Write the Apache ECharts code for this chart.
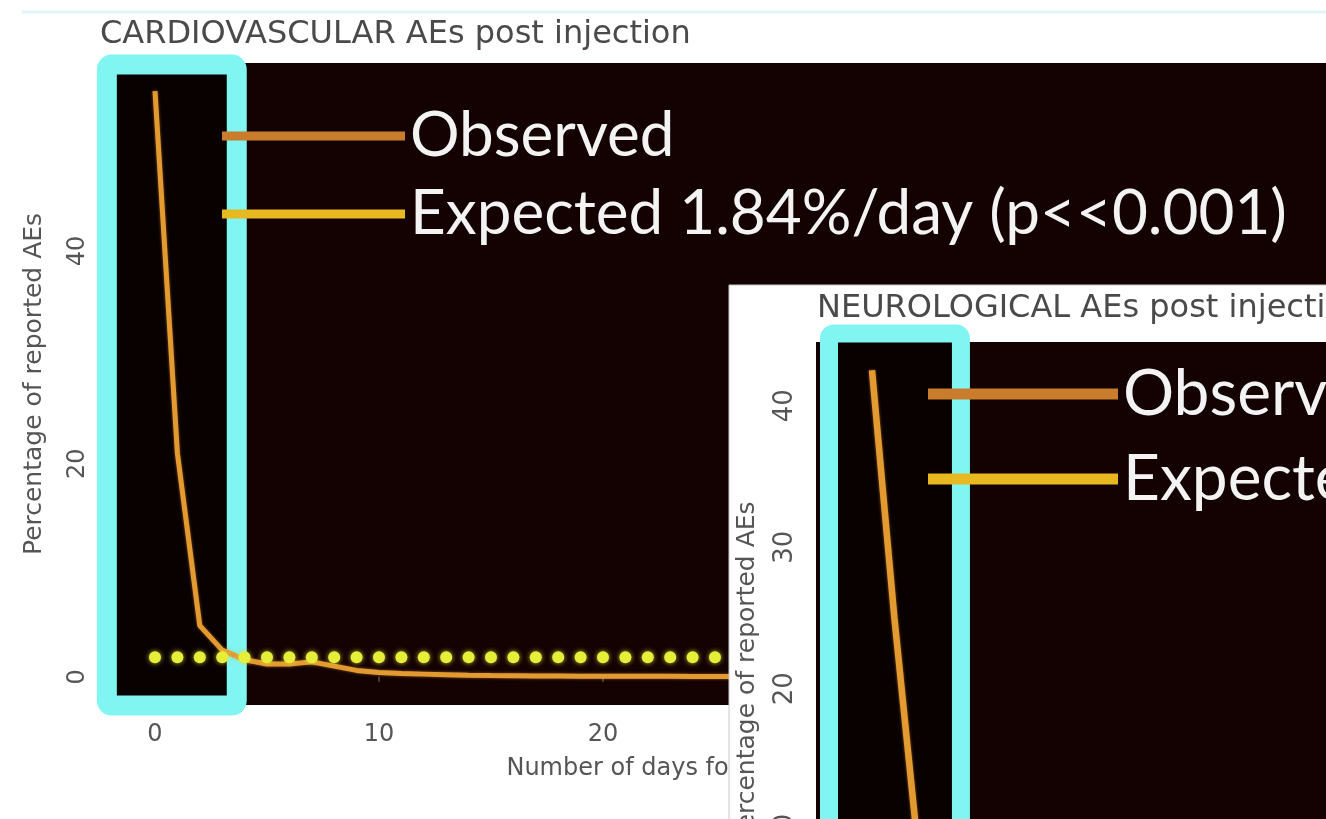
<!DOCTYPE html>
<html>
<head>
<meta charset="utf-8">
<script src="https://cdn.jsdelivr.net/npm/echarts@6/dist/echarts.min.js"></script>
<style>
html,body{margin:0;padding:0;background:#ffffff;}
#c{width:1326px;height:819px;}
</style>
</head>
<body>
<div id="c"></div>
<script>
// ---------- data ----------
const cardioTitle = 'CARDIOVASCULAR AEs post injection';
const neuroTitle = 'NEUROLOGICAL AEs post injection';
const xAxisName = 'Number of days following injection';
const yAxisName = 'Percentage of reported AEs';
const observedName = 'Observed';
const cardioExpectedName = 'Expected 1.84%/day (p<<0.001)';
const neuroExpectedName = 'Expected';

const cardioDays = [0,1,2,3,4,5,6,7,8,9,10,11,12,13,14,15,16,17,18,19,20,21,22,23,24,25,26,27,28,29,30];
const cardioObserved = [55,21,4.8,2.5,1.6,1.2,1.2,1.4,1.0,0.6,0.4,0.3,0.25,0.2,0.15,0.12,0.1,0.08,0.07,0.06,0.05,0.05,0.04,0.04,0.03,0.03,0.03,0.03,0.02,0.02,0.02];
const cardioExpected = [1.84,1.84,1.84,1.84,1.84,1.84,1.84,1.84,1.84,1.84,1.84,1.84,1.84,1.84,1.84,1.84,1.84,1.84,1.84,1.84,1.84,1.84,1.84,1.84,1.84,1.84,1.84,1.84,1.84,1.84,1.84];

const neuroDays = [0,1,2,3,4,5,6,7,8,9,10];
const neuroObserved = [42.5,25,9.5,4.5,2.8,2.0,1.6,1.3,1.0,0.8,0.6];
const neuroExpected = [1.84,1.84,1.84,1.84,1.84,1.84,1.84,1.84,1.84,1.84,1.84];

const xTicks = [0,10,20,30,40,50];
const cardioYTicks = [0,20,40];
const neuroYTicks = [0,10,20,30,40];

// ---------- helpers ----------
const pairs = (xs, ys) => xs.map((x, i) => [x, ys[i]]);

const axisFont = 'DejaVu Sans';
const grey = '#555555';
const plotBg = '#140202';
const cyan = '#80f5f2';
const lineOrange = '#e39a30';
const dotYellow = '#e6ee3a';

function xAxisOpt(gridIndex, z) {
  return {
    type: 'value', gridIndex: gridIndex, min: -2.5, max: 52.5, z: z,
    axisLine: {show: false},
    splitLine: {show: false},
    axisTick: {show: true, length: 5, lineStyle: {color: '#555', width: 1.5}, customValues: xTicks},
    axisLabel: {customValues: xTicks, color: grey, fontFamily: axisFont, fontSize: 24, margin: 18},
    name: xAxisName,
    nameLocation: 'middle', nameGap: 52,
    nameTextStyle: {color: grey, fontFamily: axisFont, fontSize: 24}
  };
}
function yAxisOpt(gridIndex, z, min, max, ticks, labelSize, labelMargin, nameGap) {
  return {
    type: 'value', gridIndex: gridIndex, min: min, max: max, z: z,
    axisLine: {show: false},
    splitLine: {show: false},
    axisTick: {show: true, length: 5, lineStyle: {color: '#555', width: 1.5}, customValues: ticks},
    axisLabel: {customValues: ticks, rotate: 90, color: grey, fontFamily: axisFont, fontSize: labelSize, margin: labelMargin},
    name: yAxisName, nameLocation: 'middle', nameGap: nameGap, nameRotate: 90,
    nameTextStyle: {color: grey, fontFamily: axisFont, fontSize: 25}
  };
}

const option = {
  animation: false,
  backgroundColor: '#ffffff',
  title: [
    {text: cardioTitle, left: 95, top: 14, z: 4,
     textStyle: {color: '#4a4a4a', fontFamily: axisFont, fontSize: 32, fontWeight: 'normal'}},
    {text: neuroTitle, left: 812, top: 288, z: 14,
     textStyle: {color: '#4a4a4a', fontFamily: axisFont, fontSize: 32, fontWeight: 'normal'}}
  ],
  legend: [
    {orient: 'vertical', left: 222, top: 101, padding: 0, itemWidth: 183, itemHeight: 9, itemGap: 8,
     icon: 'rect', selectedMode: false, z: 4,
     textStyle: {fontFamily: 'Lato', fontSize: 62, lineHeight: 70, color: '#f3f3f3'},
     data: [
       {name: observedName, itemStyle: {color: '#c97c2b', opacity: 1}},
       {name: cardioExpectedName, itemStyle: {color: '#e8b820', opacity: 1}}
     ]},
    {orient: 'vertical', left: 928, top: 359, padding: 0, itemWidth: 190, itemHeight: 11, itemGap: 15,
     icon: 'rect', selectedMode: false, z: 14,
     textStyle: {fontFamily: 'Lato', fontSize: 64, lineHeight: 70, color: '#f3f3f3'},
     data: [
       {name: observedName, itemStyle: {color: '#c97c2b', opacity: 1}},
       {name: neuroExpectedName, itemStyle: {color: '#e8b820', opacity: 1}}
     ]}
  ],
  grid: [
    {left: 99, top: 63, width: 1232, height: 642, show: true, backgroundColor: plotBg,
     borderWidth: 0, z: 0, outerBoundsMode: 'none', containLabel: false},
    {left: 816, top: 342, width: 1232, height: 661, show: true, backgroundColor: plotBg,
     borderWidth: 0, z: 11, outerBoundsMode: 'none', containLabel: false}
  ],
  xAxis: [xAxisOpt(0, 0), xAxisOpt(1, 11)],
  yAxis: [
    yAxisOpt(0, 0, -2.65, 57.65, cardioYTicks, 24, 9, 52),
    yAxisOpt(1, 11, -2.2, 44.5, neuroYTicks, 26, 18, 56)
  ],
  series: [
    {name: observedName, type: 'line', xAxisIndex: 0, yAxisIndex: 0, z: 3,
     data: pairs(cardioDays, cardioObserved), showSymbol: false,
     lineStyle: {color: lineOrange, width: 5, shadowBlur: 3, shadowColor: 'rgba(227,154,48,0.6)'},
     itemStyle: {color: lineOrange}},
    {name: cardioExpectedName, type: 'scatter', xAxisIndex: 0, yAxisIndex: 0, z: 4,
     data: pairs(cardioDays, cardioExpected), symbol: 'circle', symbolSize: 12,
     itemStyle: {color: dotYellow, opacity: 1, shadowBlur: 5, shadowColor: 'rgba(230,238,58,0.8)'}},
    {name: observedName, type: 'line', xAxisIndex: 1, yAxisIndex: 1, z: 13,
     data: pairs(neuroDays, neuroObserved), showSymbol: false,
     lineStyle: {color: lineOrange, width: 6.5, shadowBlur: 3, shadowColor: 'rgba(227,154,48,0.6)'},
     itemStyle: {color: lineOrange}},
    {name: neuroExpectedName, type: 'scatter', xAxisIndex: 1, yAxisIndex: 1, z: 13,
     data: pairs(neuroDays, neuroExpected), symbol: 'circle', symbolSize: 14,
     itemStyle: {color: dotYellow, opacity: 1}}
  ]
};

const chart = echarts.init(document.getElementById('c'));
chart.setOption(option);

// highlight boxes anchored to data coordinates
function boxFromData(gridIndex, x0, x1, yTop, yBottom) {
  const a = chart.convertToPixel({gridIndex: gridIndex}, [x0, yTop]);
  const b = chart.convertToPixel({gridIndex: gridIndex}, [x1, yBottom]);
  return {x: a[0], y: a[1], width: b[0] - a[0], height: b[1] - a[1]};
}
const box1 = boxFromData(0, -2.15, 3.65, 57.5, -2.7);
const box2 = boxFromData(1, -1.92, 3.97, 45.1, -2.2);

chart.setOption({
  graphic: {elements: [
    {type: 'line', z: 0, shape: {x1: 22, y1: 12, x2: 1326, y2: 12},
     style: {stroke: '#e3f5f7', lineWidth: 3}},
    {type: 'rect', z: 1, shape: Object.assign({r: 5}, box1),
     style: {fill: '#090000', stroke: cyan, lineWidth: 20}},
    {type: 'rect', z: 10, shape: {x: 729, y: 285, width: 700, height: 600},
     style: {fill: '#ffffff', stroke: '#c8c8c8', lineWidth: 1}},
    {type: 'rect', z: 12, shape: Object.assign({r: 5}, box2),
     style: {fill: '#090000', stroke: cyan, lineWidth: 18}}
  ]}
});
</script>
</body>
</html>
